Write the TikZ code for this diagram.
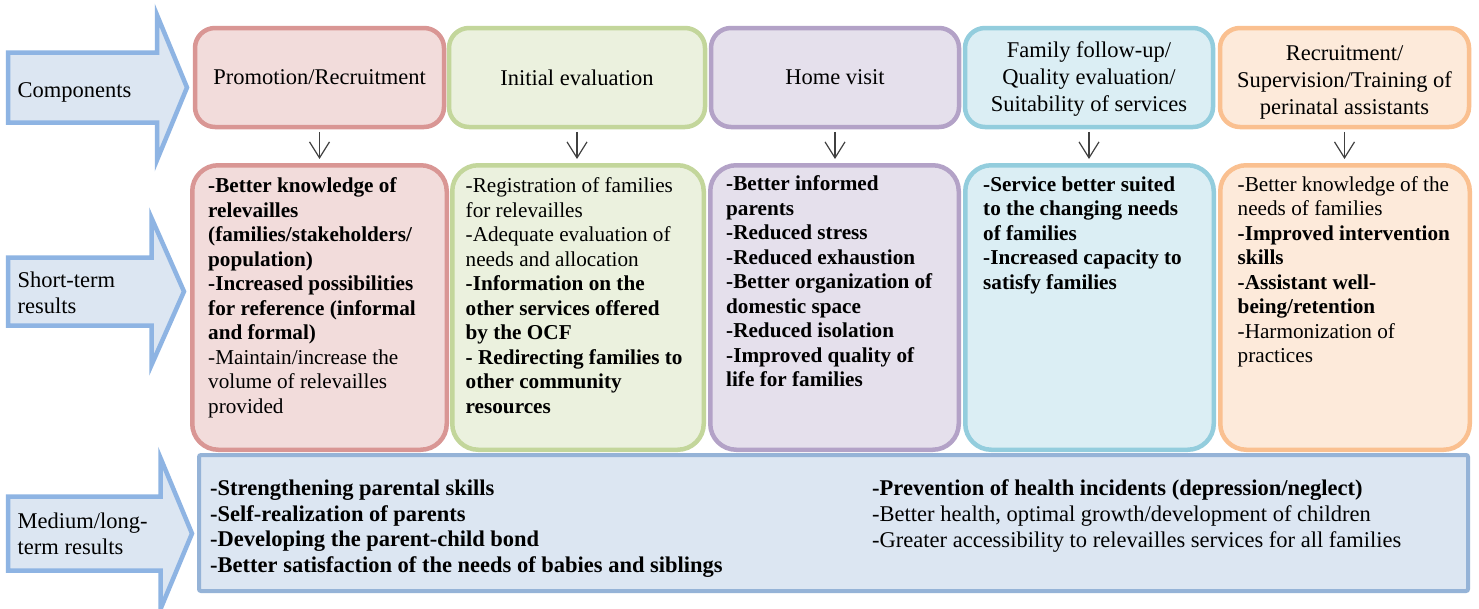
\documentclass[tikz,border=0pt]{standalone}
\usepackage{fontspec}
\setmainfont{Liberation Serif}
\usetikzlibrary{arrows.meta}
\definecolor{bluefill}{HTML}{DCE6F2}
\definecolor{bluedraw}{HTML}{8EB4E3}
\definecolor{bluebox}{HTML}{95B3D7}
\definecolor{redfill}{HTML}{F2DCDB}
\definecolor{reddraw}{HTML}{D99694}
\definecolor{greenfill}{HTML}{EBF1DE}
\definecolor{greendraw}{HTML}{C3D69B}
\definecolor{purplefill}{HTML}{E5E0EC}
\definecolor{purpledraw}{HTML}{B3A2C7}
\definecolor{aquafill}{HTML}{DBEEF4}
\definecolor{aquadraw}{HTML}{93CDDD}
\definecolor{orangefill}{HTML}{FDEADA}
\definecolor{orangedraw}{HTML}{FAC090}
\definecolor{connc}{HTML}{404040}
\begin{document}
\begin{tikzpicture}[x=1pt,y=-1pt,
  blockarrow/.style={fill=bluefill,draw=bluedraw,line width=4.5pt,line join=miter},
  armlabel/.style={anchor=base west,align=left,inner sep=0pt,font=\fontsize{22.5}{26}\selectfont},
  topbox/.style={line width=4.5pt,rounded corners=20pt,minimum height=99pt,inner sep=0pt,align=center,font=\fontsize{22.5}{27}\selectfont},
  stbox/.style={line width=4.5pt,rounded corners=26pt,minimum height=284.5pt,inner sep=0pt},
  sttext/.style={anchor=base west,align=left,inner sep=0pt,font=\fontsize{21.2}{24.5}\selectfont},
  mdtext/.style={anchor=base west,align=left,inner sep=0pt,font=\fontsize{22.5}{25.7}\selectfont},
  conn/.style={draw=connc,line width=1.2pt,-{Straight Barb[length=16pt,width=20pt,line width=1.2pt]},shorten <=2.5pt,shorten >=4pt},
  redc/.style={fill=redfill,draw=reddraw},
  greenc/.style={fill=greenfill,draw=greendraw},
  purplec/.style={fill=purplefill,draw=purpledraw},
  aquac/.style={fill=aquafill,draw=aquadraw},
  orangec/.style={fill=orangefill,draw=orangedraw}]
\useasboundingbox (0,0) rectangle (1479,608);
\fill[white] (0,0) rectangle (1479,608);

% block arrows
\draw[blockarrow] (8,52.5) -- (157,52.5) -- (157,15) -- (187,87.5) -- (157,160) -- (157,122.5) -- (8,122.5) -- cycle;
\draw[blockarrow] (8,257.5) -- (151.5,257.5) -- (151.5,218) -- (184,291.5) -- (151.5,365) -- (151.5,325.5) -- (8,325.5) -- cycle;
\draw[blockarrow] (8,496.5) -- (160.5,496.5) -- (160.5,458) -- (192,533.5) -- (160.5,609) -- (160.5,570.5) -- (8,570.5) -- cycle;
% (multi-line nodes: base = baseline of the last line)
\node[armlabel] (lc) at (17.5,97) {Components};
\node[armlabel] (ls) at (17.5,313) {Short-term\\results};
\node[armlabel] (lm) at (17.5,554) {Medium/long-\\term results};

% top row
\node[topbox,redc,minimum width=249pt] (t1) at (319.5,77.5) {Promotion/Recruitment};
\node[topbox,greenc,minimum width=256pt] (t2) at (577,77.5) {Initial evaluation};
\node[topbox,purplec,minimum width=248pt] (t3) at (835,77.5) {Home visit};
\node[topbox,aquac,minimum width=248pt] (t4) at (1089,77.5) {};
\node[topbox,orangec,minimum width=249pt] (t5) at (1344.5,77.5) {};
\node[topbox,draw=none,fill=none] (t4l) at (1089,79.5) {Family follow-up/\\Quality evaluation/\\Suitability of services};
\node[topbox,draw=none,fill=none] (t5l) at (1344.5,82) {Recruitment/\\Supervision/Training of\\perinatal assistants};

% short-term row
\node[stbox,redc,minimum width=254.5pt] (s1) at (319.5,307.5) {};
\node[stbox,greenc,minimum width=251.5pt] (s2) at (578,307.5) {};
\node[stbox,purplec,minimum width=248.5pt] (s3) at (834.5,307.5) {};
\node[stbox,aquac,minimum width=248.5pt] (s4) at (1089.5,307.5) {};
\node[stbox,orangec,minimum width=249.5pt] (s5) at (1345,307.5) {};

% medium box
\node[fill=bluefill,draw=bluebox,line width=4pt,rounded corners=2pt,minimum width=1269pt,minimum height=136pt,inner sep=0pt] (m) at (833.5,523) {};

% connectors
\foreach \i in {1,...,5}{
  \draw[conn] (t\i.south) -- (t\i.south |- s\i.north);
}

% short-term texts (positioned by the baseline of their last line)
\node[sttext] (x1) at (208,413) {\textbf{-Better knowledge of}\\\textbf{relevailles}\\\textbf{(families/stakeholders/}\\\textbf{population)}\\\textbf{-Increased possibilities}\\\textbf{for reference (informal}\\\textbf{and formal)}\\-Maintain/increase the\\volume of relevailles\\provided};
\node[sttext] (x2) at (465.5,413) {-Registration of families\\for relevailles\\-Adequate evaluation of\\needs and allocation\\\textbf{-Information on the}\\\textbf{other services offered}\\\textbf{by the OCF}\\\textbf{- Redirecting families to}\\\textbf{other community}\\\textbf{resources}};
\node[sttext] (x3) at (726,386.5) {\textbf{-Better informed}\\\textbf{parents}\\\textbf{-Reduced stress}\\\textbf{-Reduced exhaustion}\\\textbf{-Better organization of}\\\textbf{domestic space}\\\textbf{-Reduced isolation}\\\textbf{-Improved quality of}\\\textbf{life for families}};
\node[sttext] (x4) at (983,289) {\textbf{-Service better suited}\\\textbf{to the changing needs}\\\textbf{of families}\\\textbf{-Increased capacity to}\\\textbf{satisfy families}};
\node[sttext] (x5) at (1237.5,362.5) {-Better knowledge of the\\needs of families\\\textbf{-Improved intervention}\\\textbf{skills}\\\textbf{-Assistant well-}\\\textbf{being/retention}\\-Harmonization of\\practices};

% medium texts
\node[mdtext] (y1) at (210,572.5) {\textbf{-Strengthening parental skills}\\\textbf{-Self-realization of parents}\\\textbf{-Developing the parent-child bond}\\\textbf{-Better satisfaction of the needs of babies and siblings}};
\node[mdtext] (y2) at (872,547) {\textbf{-Prevention of health incidents (depression/neglect)}\\-Better health, optimal growth/development of children\\-Greater accessibility to relevailles services for all families};
\end{tikzpicture}
\end{document}
